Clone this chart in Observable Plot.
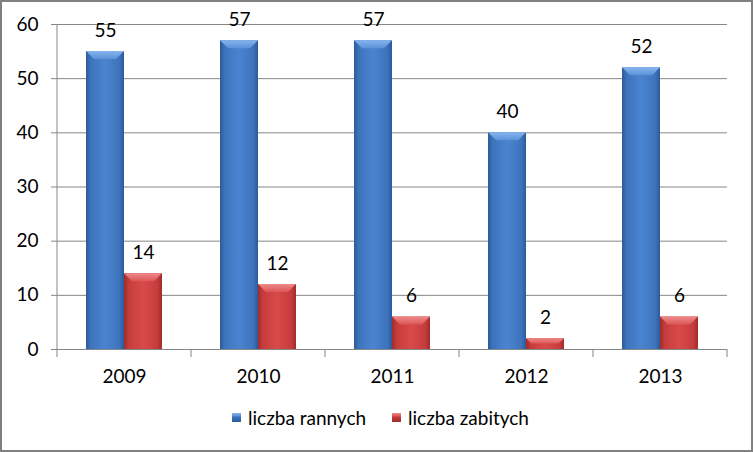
<!DOCTYPE html>
<html>
<head>
<meta charset="utf-8">
<script src="https://cdn.jsdelivr.net/npm/d3@7"></script>
<script src="https://cdn.jsdelivr.net/npm/@observablehq/plot@0.6"></script>
<style>
  html, body { margin: 0; padding: 0; background: #fff; }
  #wrap { position: relative; width: 753px; height: 452px; overflow: hidden; font-family: Lato, "Open Sans", sans-serif; }
  #frame { position: absolute; left: 0; top: 0; width: 753px; height: 452px; box-sizing: border-box; border: 2px solid #808080; pointer-events: none; }
  #chart { position: absolute; left: 0; top: 0; }
  #legend { position: absolute; left: 4px; top: 406px; width: 753px; display: flex; justify-content: center; align-items: center; font-size: 19px; color: #000; }
  .item { display: flex; align-items: center; margin: 0 13px; }
  .sw { width: 9px; height: 9px; margin-right: 7px; }
</style>
</head>
<body>
<div id="wrap">
  <div id="chart"></div>
  <div id="legend"></div>
  <div id="frame"></div>
</div>
<script>
const years = ["2009", "2010", "2011", "2012", "2013"];
const seriesNames = ["liczba rannych", "liczba zabitych"];
const ranni = [55, 57, 57, 40, 52];
const zabici = [14, 12, 6, 2, 6];
const yTicks = [0, 10, 20, 30, 40, 50, 60];
const seriesColors = ["url(#gb)", "url(#gr)"];

const data = years.flatMap((y, i) => [
  {year: y, series: seriesNames[0], value: ranni[i]},
  {year: y, series: seriesNames[1], value: zabici[i]}
]);

const plot = Plot.plot({
  width: 753,
  height: 390,
  marginLeft: 55,
  marginRight: 24,
  marginTop: 24,
  marginBottom: 41,
  style: {fontFamily: "Lato, 'Open Sans', sans-serif", fontSize: "19px", color: "#000", background: "transparent", overflow: "visible"},
  fx: {domain: years, padding: 0, label: null, axis: "bottom", tickSize: 0, tickPadding: 20},
  x: {domain: seriesNames, paddingInner: 0, paddingOuter: 0.75, axis: null},
  y: {domain: [0, 60], label: null, axis: null},
  color: {domain: seriesNames, range: seriesColors},
  marks: [
    Plot.gridY(yTicks, {stroke: "#868686", strokeOpacity: 1}),
    Plot.axisY(yTicks, {tickSize: 6, tickPadding: 13, label: null, stroke: "#868686", fill: "#000", fontSize: 19}),
    Plot.ruleY([0], {stroke: "#868686"}),
    Plot.barY(data, {fx: "year", x: "series", y: "value", fill: "series"}),
    Plot.text(data, {fx: "year", x: "series", y: "value", text: d => String(d.value), dy: -21, fontSize: 19, fill: "#000"})
  ]
});

document.getElementById("chart").appendChild(plot);

// gradients
const svg = d3.select(plot);
const defs = svg.insert("defs", ":first-child");
function grad(id, edge, mid, center) {
  const g = defs.append("linearGradient").attr("id", id).attr("x1", 0).attr("x2", 1).attr("y1", 0).attr("y2", 0);
  [[0, edge], [0.12, mid], [0.5, center], [0.88, mid], [1, edge]].forEach(([o, c]) =>
    g.append("stop").attr("offset", o).attr("stop-color", c));
}
grad("gb", "#2b5a9a", "#3d73bb", "#4a84d0");
grad("gr", "#a02b2b", "#c53c3c", "#d94a4a");
function bevel(id, c1, c2) {
  const g = defs.append("linearGradient").attr("id", id).attr("x1", 0).attr("x2", 0).attr("y1", 0).attr("y2", 1);
  g.append("stop").attr("offset", 0).attr("stop-color", c1);
  g.append("stop").attr("offset", 1).attr("stop-color", c2);
}
bevel("bb", "#86b4ee", "#5a92d8");
bevel("br", "#ee8a8a", "#dc5656");

// bevel tops on bars
svg.selectAll("g[aria-label='bar'] rect").each(function() {
  const r = d3.select(this);
  const x = +r.attr("x"), y = +r.attr("y"), w = +r.attr("width"), h = +r.attr("height");
  const b = Math.min(8, h / 2);
  const isBlue = (r.attr("fill") || "").includes("gb");
  d3.select(this.parentNode).append("polygon")
    .attr("points", `${x},${y} ${x + w},${y} ${x + w - b},${y + b} ${x + b},${y + b}`)
    .attr("fill", isBlue ? "url(#bb)" : "url(#br)");
});

// axis line and category ticks derived from the scales
const fx = plot.scale("fx");
const ys = plot.scale("y");
const y0 = ys.apply(0), yTop = ys.apply(60);
const bounds = years.map(y => fx.apply(y)).concat([fx.apply(years[years.length - 1]) + fx.bandwidth]);
const ov = svg.append("g").attr("stroke", "#868686");
ov.append("line").attr("x1", bounds[0]).attr("x2", bounds[0]).attr("y1", yTop).attr("y2", y0);
bounds.forEach(bx => ov.append("line").attr("x1", bx).attr("x2", bx).attr("y1", y0).attr("y2", y0 + 8));

// legend
const leg = document.getElementById("legend");
const swatchBg = [
  "linear-gradient(to bottom, #86b4ee 0, #5a92d8 3px, #3d73bb 4px, #2b5a9a 100%)",
  "linear-gradient(to bottom, #ee8a8a 0, #dc5656 3px, #c53c3c 4px, #a02b2b 100%)"
];
seriesNames.forEach((s, i) => {
  const it = document.createElement("div");
  it.className = "item";
  const sw = document.createElement("div");
  sw.className = "sw";
  sw.style.background = swatchBg[i];
  const t = document.createElement("span");
  t.textContent = s;
  it.appendChild(sw);
  it.appendChild(t);
  leg.appendChild(it);
});
</script>
</body>
</html>
